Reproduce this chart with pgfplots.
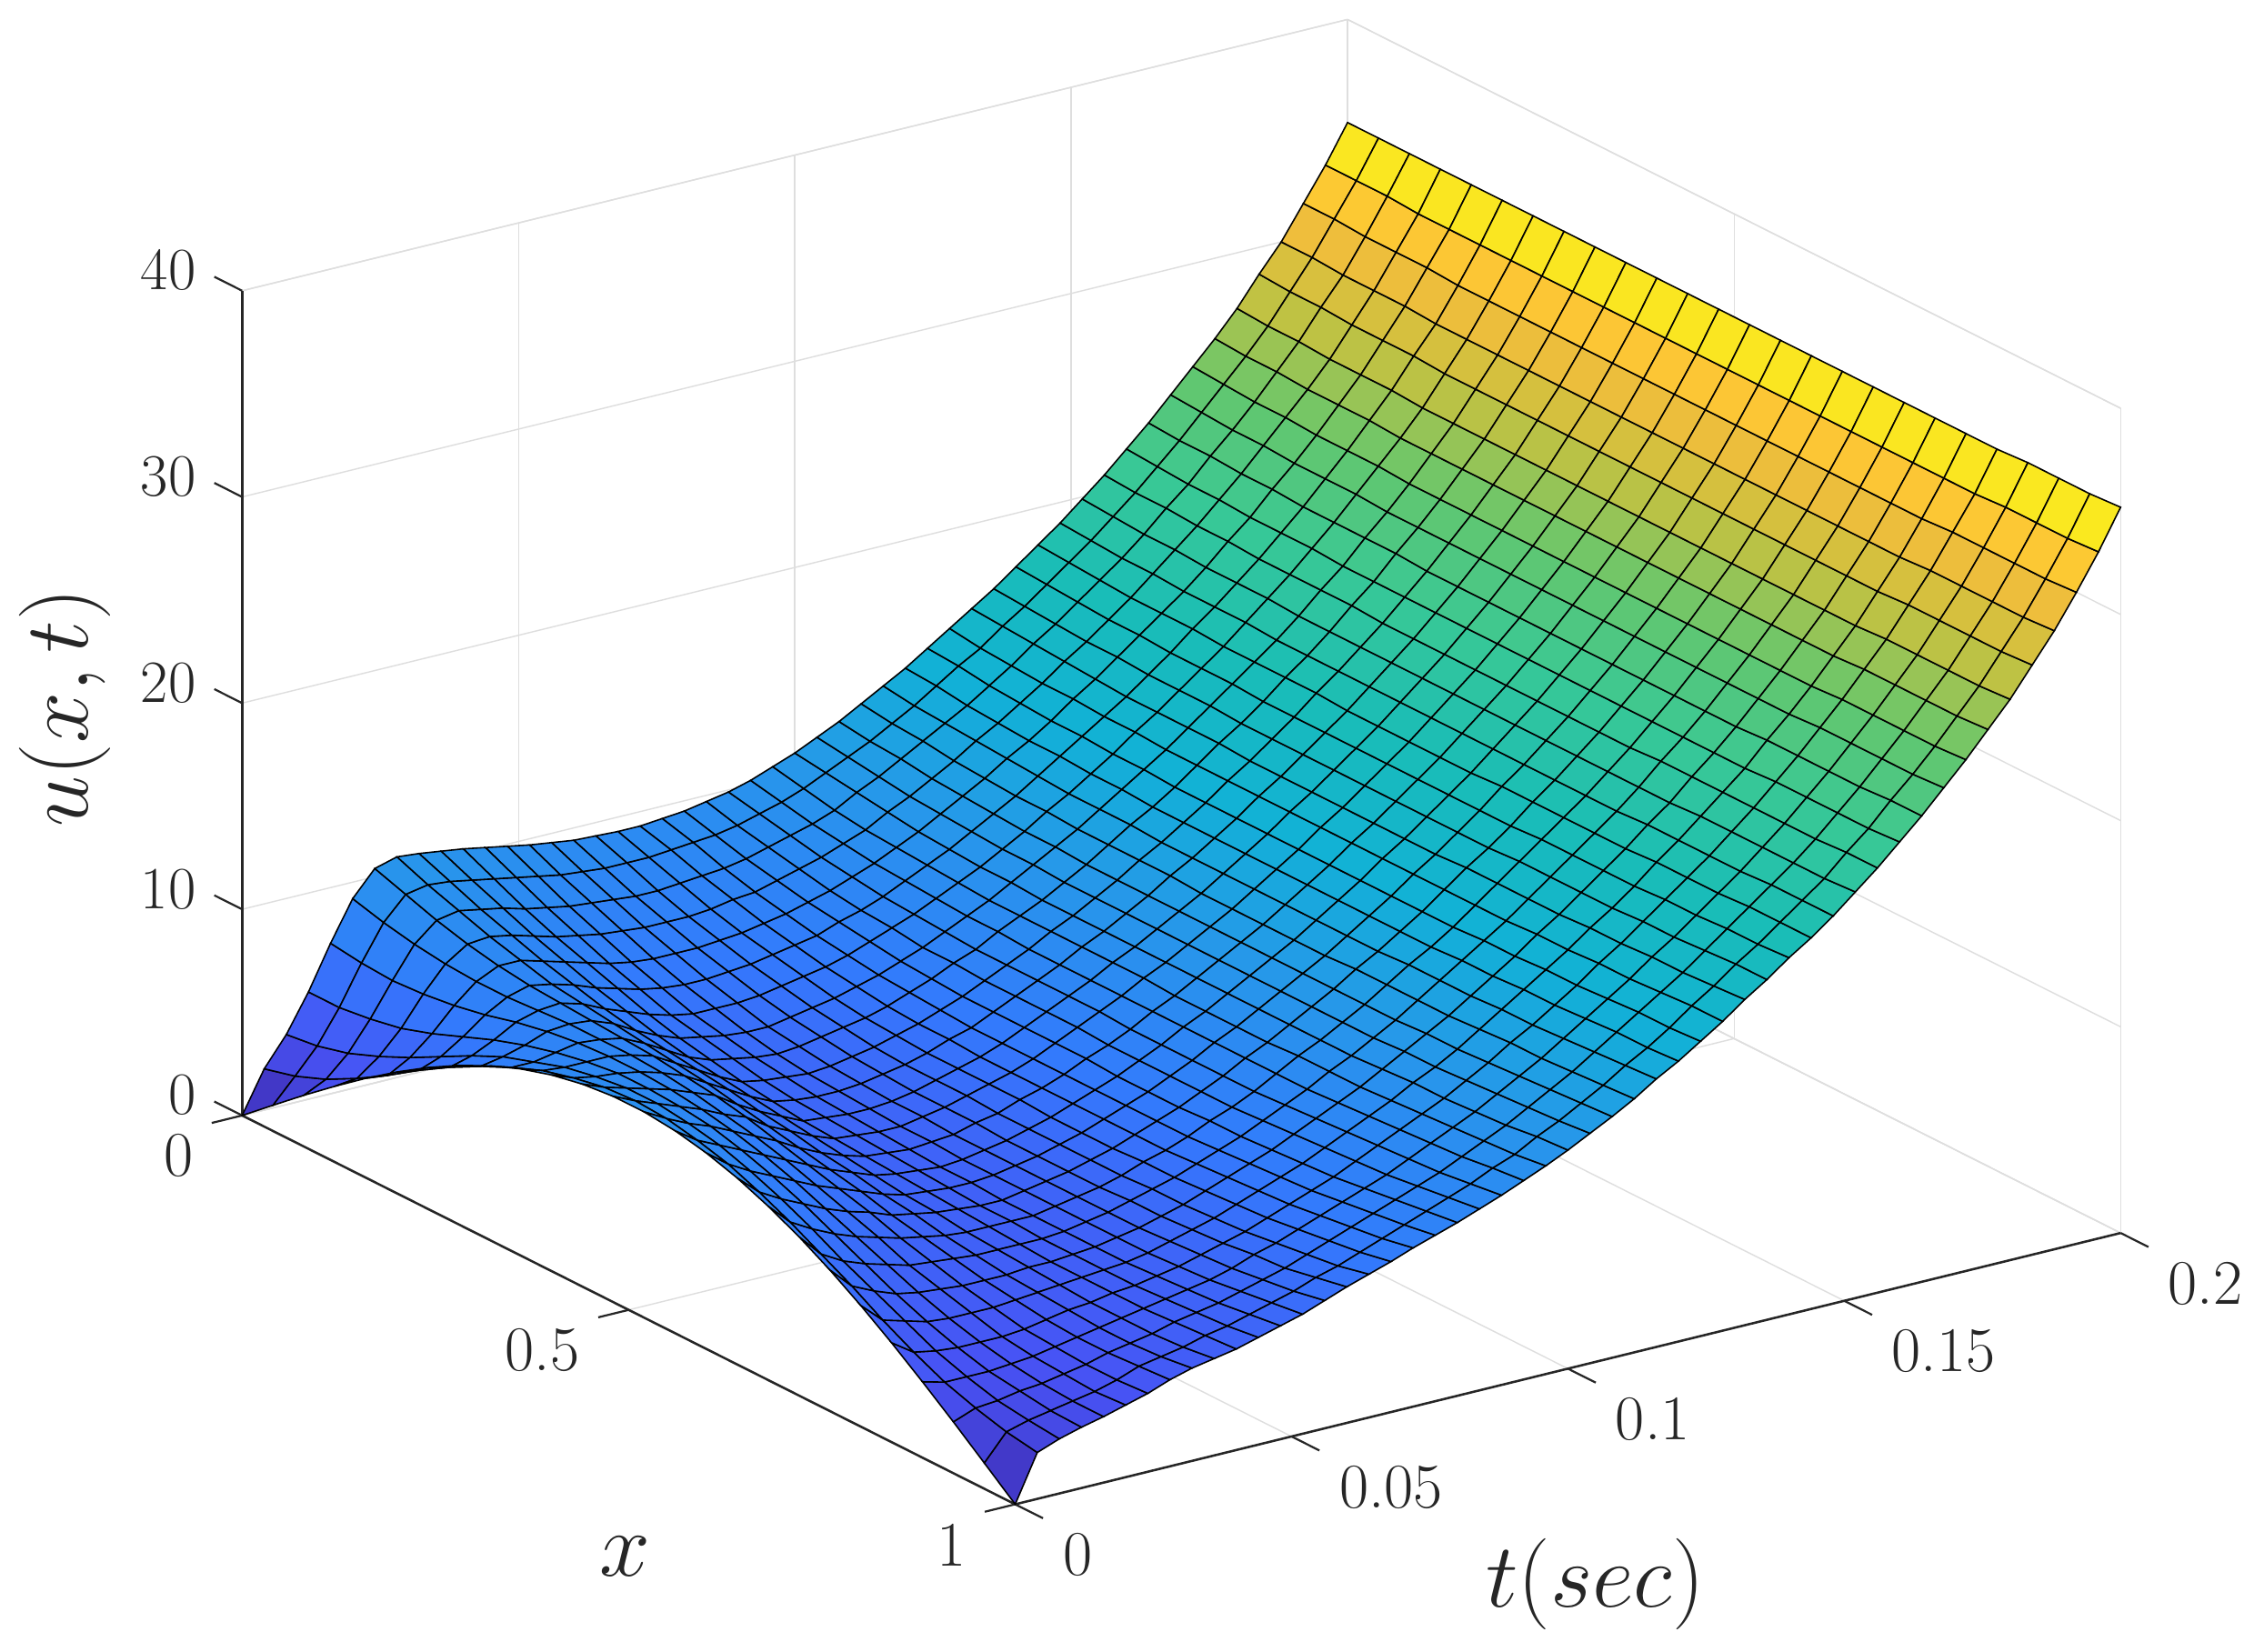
\documentclass[border=0pt]{standalone}
\usepackage{pgfplots}
\pgfplotsset{compat=1.18}
\definecolor{gridc}{gray}{0.87}
\definecolor{axc}{gray}{0.15}
\begin{document}
\begin{tikzpicture}
\path[use as bounding box] (0,0) rectangle (784pt,572.1pt);
\begin{axis}[
 at={(83.85pt,185.8pt)}, anchor=origin,
 x={(267.7pt,-134.65pt)}, y={(1914pt,469.75pt)}, z={(0pt,7.14pt)},
 xmin=0,xmax=1,ymin=0,ymax=0.2,zmin=0,zmax=40,
 clip=false,
 xtick={0,0.5,1}, xticklabels={0,0.5,1},
 ytick={0,0.05,0.1,0.15,0.2}, yticklabels={0,0.05,0.1,0.15,0.2},
 ztick={0,10,20,30,40},
 grid=major, major grid style={gridc,line width=0.45pt},
 axis line style={gridc,line width=0.45pt},
 major tick length=0pt,
 tick label style={font=\fontsize{22}{24}\selectfont,text=axc},
 xticklabel style={anchor=east,xshift=-13.5pt,yshift=-14pt},
 yticklabel style={anchor=west,xshift=13pt,yshift=-17.5pt},
 zticklabel style={anchor=east,xshift=-12.5pt,yshift=7pt},
 xlabel={$x$}, ylabel={$t(sec)$}, zlabel={$u(x,t)$},
 label style={font=\fontsize{24.88}{26}\selectfont,text=axc,scale=1.27},
 xlabel style={at={(axis cs:0.9247,-0.06,0)},anchor=center},
 ylabel style={at={(axis cs:1.3836,0.0513,0)},anchor=center},
 zlabel style={at={(axis cs:-0.7805,0.0771,0)},anchor=center,rotate=0},
 colormap={parula}{rgb=(.2422,.1504,.6603) rgb=(.2810,.3228,.9579) rgb=(.2,.48,.99) rgb=(.154,.59,.92) rgb=(.069,.695,.84) rgb=(.1,.74,.72) rgb=(.216,.784,.592) rgb=(.39,.78,.43) rgb=(.78,.76,.25) rgb=(.99,.74,.23) rgb=(.977,.984,.08)},
 point meta min=0, point meta max=35.2,
]
\draw[axc,line width=0.8pt] (axis cs:0,0,0)--(axis cs:0,0,40);
\draw[axc,line width=0.8pt] (axis cs:0,0,0)--(axis cs:1,0,0)--(axis cs:1,0.2,0);
\draw[axc,line width=0.7pt] (axis cs:0,0,0)--(axis cs:0,-0.0055,0);
\draw[axc,line width=0.7pt] (axis cs:0.5,0,0)--(axis cs:0.5,-0.0055,0);
\draw[axc,line width=0.7pt] (axis cs:1,0,0)--(axis cs:1,-0.0055,0);
\draw[axc,line width=0.7pt] (axis cs:1,0,0)--(axis cs:1.036,0,0);
\draw[axc,line width=0.7pt] (axis cs:1,0.05,0)--(axis cs:1.036,0.05,0);
\draw[axc,line width=0.7pt] (axis cs:1,0.1,0)--(axis cs:1.036,0.1,0);
\draw[axc,line width=0.7pt] (axis cs:1,0.15,0)--(axis cs:1.036,0.15,0);
\draw[axc,line width=0.7pt] (axis cs:1,0.2,0)--(axis cs:1.036,0.2,0);
\draw[axc,line width=0.7pt] (axis cs:0,0,0)--(axis cs:-0.036,0,0);
\draw[axc,line width=0.7pt] (axis cs:0,0,10)--(axis cs:-0.036,0,10);
\draw[axc,line width=0.7pt] (axis cs:0,0,20)--(axis cs:-0.036,0,20);
\draw[axc,line width=0.7pt] (axis cs:0,0,30)--(axis cs:-0.036,0,30);
\draw[axc,line width=0.7pt] (axis cs:0,0,40)--(axis cs:-0.036,0,40);
\addplot3[surf,shader=faceted,faceted color=black,line width=0.5pt,z buffer=sort,mesh/cols=26]
 table[header=false,x expr={mod(\coordindex,26)*0.04},y expr={floor((\coordindex+0.5)/26)*0.004},z index=0]{
0
1.25
2.49
3.68
4.82
5.88
6.85
7.71
8.44
9.05
9.51
9.82
9.98
9.98
9.82
9.51
9.05
8.44
7.71
6.85
5.88
4.82
3.68
2.49
1.25
0
2.0
2.4
3.0
3.8
4.7
5.7
6.6
7.4
8.1
8.7
9.1
9.4
9.5
9.4
9.1
8.7
8.1
7.4
6.6
5.8
4.9
4.1
3.4
2.9
2.5
2.25
3.4
3.6
4.0
4.6
5.3
6.1
6.9
7.6
8.1
8.6
8.9
9.1
9.1
8.9
8.6
8.1
7.5
6.8
6.0
5.3
4.6
3.9
3.4
3.0
2.8
2.65
5.2
5.2
5.4
5.7
6.2
6.8
7.4
7.9
8.3
8.6
8.8
8.8
8.7
8.5
8.1
7.6
7.0
6.3
5.6
4.9
4.3
3.8
3.4
3.2
3.0
2.95
7.3
7.1
7.0
7.1
7.3
7.6
8.0
8.3
8.5
8.6
8.6
8.5
8.3
8.0
7.6
7.1
6.5
5.9
5.3
4.7
4.2
3.8
3.5
3.3
3.2
3.2
9.2
8.8
8.5
8.3
8.2
8.2
8.3
8.4
8.4
8.4
8.3
8.1
7.8
7.5
7.1
6.6
6.1
5.6
5.0
4.6
4.2
3.8
3.6
3.5
3.4
3.5
10.4
9.9
9.4
9.0
8.7
8.5
8.4
8.3
8.2
8.1
7.9
7.7
7.4
7.0
6.6
6.2
5.8
5.3
4.9
4.5
4.2
3.9
3.8
3.7
3.7
3.8
10.7
10.1
9.6
9.1
8.7
8.3
8.1
7.9
7.7
7.5
7.3
7.0
6.7
6.4
6.1
5.8
5.4
5.1
4.8
4.5
4.3
4.1
4.0
4.0
4.1
4.2
10.6
10.0
9.4
8.9
8.4
8.0
7.6
7.3
7.1
6.9
6.7
6.4
6.2
5.9
5.7
5.4
5.2
4.9
4.7
4.5
4.4
4.3
4.2
4.2
4.3
4.5
10.45
9.8
9.2
8.6
8.1
7.6
7.2
6.8
6.5
6.3
6.1
5.9
5.7
5.5
5.3
5.1
5.0
4.8
4.7
4.6
4.5
4.4
4.4
4.4
4.5
4.7
10.3
9.6
8.9
8.3
7.8
7.3
6.8
6.4
6.1
5.8
5.6
5.4
5.3
5.2
5.1
5.0
4.9
4.8
4.7
4.6
4.6
4.6
4.6
4.7
4.8
4.9
10.1
9.4
8.7
8.1
7.5
7.0
6.5
6.2
5.9
5.6
5.4
5.3
5.2
5.1
5.0
4.9
4.8
4.8
4.7
4.7
4.7
4.7
4.8
4.9
5.0
5.2
9.9
9.2
8.5
7.9
7.3
6.8
6.3
6.0
5.7
5.5
5.3
5.2
5.1
5.0
4.9
4.9
4.8
4.8
4.8
4.8
4.8
4.9
5.0
5.1
5.3
5.5
9.7
9.0
8.4
7.8
7.2
6.7
6.3
5.9
5.6
5.4
5.3
5.2
5.1
5.1
5.0
5.0
5.0
5.0
5.0
5.0
5.0
5.1
5.2
5.4
5.6
5.8
9.55
8.9
8.3
7.7
7.2
6.7
6.3
5.9
5.7
5.5
5.4
5.3
5.3
5.2
5.2
5.2
5.2
5.2
5.2
5.2
5.3
5.4
5.5
5.7
5.9
6.2
9.4
8.8
8.2
7.7
7.2
6.8
6.4
6.1
5.9
5.7
5.6
5.5
5.5
5.5
5.4
5.4
5.4
5.4
5.5
5.5
5.6
5.7
5.9
6.0
6.3
6.6
9.35
8.8
8.2
7.7
7.3
6.9
6.6
6.3
6.1
5.9
5.8
5.8
5.8
5.7
5.7
5.7
5.7
5.7
5.8
5.8
5.9
6.0
6.2
6.4
6.6
6.95
9.3
8.8
8.3
7.8
7.4
7.1
6.8
6.5
6.3
6.2
6.1
6.1
6.1
6.1
6.0
6.0
6.0
6.1
6.1
6.2
6.3
6.4
6.6
6.8
7.0
7.3
9.3
8.9
8.4
8.0
7.6
7.3
7.0
6.8
6.6
6.5
6.5
6.4
6.4
6.4
6.4
6.4
6.4
6.4
6.5
6.6
6.7
6.8
7.0
7.2
7.4
7.7
9.4
9.0
8.5
8.1
7.8
7.5
7.3
7.1
7.0
6.9
6.8
6.8
6.8
6.8
6.8
6.8
6.8
6.8
6.9
7.0
7.1
7.2
7.4
7.6
7.8
8.05
9.5
9.1
8.7
8.4
8.1
7.9
7.7
7.5
7.4
7.3
7.3
7.3
7.3
7.3
7.2
7.2
7.2
7.3
7.3
7.4
7.5
7.6
7.8
8.0
8.2
8.4
9.7
9.3
9.0
8.7
8.4
8.2
8.1
7.9
7.9
7.8
7.8
7.8
7.8
7.7
7.7
7.7
7.7
7.7
7.8
7.9
8.0
8.1
8.2
8.4
8.6
8.8
9.9
9.6
9.3
9.0
8.8
8.6
8.5
8.4
8.3
8.3
8.3
8.3
8.3
8.2
8.2
8.2
8.2
8.2
8.3
8.4
8.5
8.6
8.7
8.8
9.0
9.2
10.2
9.9
9.6
9.4
9.2
9.1
9.0
8.9
8.9
8.8
8.8
8.8
8.8
8.8
8.8
8.8
8.8
8.8
8.8
8.9
9.0
9.1
9.2
9.3
9.5
9.65
10.6
10.3
10.0
9.8
9.7
9.6
9.5
9.4
9.4
9.4
9.4
9.4
9.4
9.3
9.3
9.3
9.3
9.4
9.4
9.4
9.5
9.6
9.7
9.8
9.9
10.1
11.0
10.8
10.6
10.4
10.2
10.1
10.0
10.0
9.9
9.9
9.9
9.9
9.9
9.9
9.9
9.9
9.9
9.9
9.9
10.0
10.1
10.1
10.2
10.3
10.5
10.6
11.5
11.3
11.1
10.9
10.8
10.7
10.6
10.6
10.5
10.5
10.5
10.5
10.5
10.5
10.5
10.5
10.5
10.5
10.5
10.6
10.6
10.7
10.8
10.9
11.0
11.15
12.0
11.8
11.7
11.5
11.4
11.3
11.2
11.2
11.1
11.1
11.1
11.1
11.1
11.1
11.1
11.1
11.1
11.1
11.1
11.2
11.2
11.3
11.4
11.5
11.6
11.7
12.6
12.4
12.3
12.1
12.0
11.9
11.9
11.8
11.8
11.8
11.8
11.7
11.7
11.7
11.7
11.7
11.8
11.8
11.8
11.8
11.9
12.0
12.0
12.1
12.2
12.3
13.2
13.0
12.9
12.8
12.7
12.6
12.5
12.5
12.5
12.4
12.4
12.4
12.4
12.4
12.4
12.4
12.4
12.5
12.5
12.5
12.6
12.6
12.7
12.8
12.9
13.0
13.8
13.7
13.5
13.4
13.3
13.3
13.2
13.2
13.1
13.1
13.1
13.1
13.1
13.1
13.1
13.1
13.1
13.1
13.2
13.2
13.3
13.3
13.4
13.5
13.5
13.6
14.5
14.4
14.2
14.1
14.0
14.0
13.9
13.9
13.8
13.8
13.8
13.8
13.8
13.8
13.8
13.8
13.8
13.8
13.9
13.9
14.0
14.0
14.1
14.2
14.2
14.3
15.2
15.0
14.9
14.8
14.8
14.7
14.7
14.6
14.6
14.6
14.6
14.6
14.6
14.6
14.6
14.6
14.6
14.6
14.6
14.7
14.7
14.8
14.8
14.9
15.0
15.0
15.9
15.8
15.7
15.6
15.5
15.4
15.4
15.4
15.4
15.3
15.3
15.3
15.3
15.3
15.3
15.3
15.4
15.4
15.4
15.4
15.5
15.5
15.6
15.6
15.7
15.8
16.6
16.5
16.4
16.3
16.3
16.2
16.2
16.2
16.1
16.1
16.1
16.1
16.1
16.1
16.1
16.1
16.1
16.2
16.2
16.2
16.2
16.3
16.3
16.4
16.5
16.5
17.4
17.3
17.2
17.1
17.1
17.0
17.0
17.0
16.9
16.9
16.9
16.9
16.9
16.9
16.9
16.9
16.9
17.0
17.0
17.0
17.0
17.1
17.1
17.2
17.2
17.3
18.2
18.1
18.0
17.9
17.9
17.9
17.8
17.8
17.8
17.8
17.7
17.7
17.7
17.7
17.7
17.8
17.8
17.8
17.8
17.8
17.9
17.9
17.9
18.0
18.0
18.0
19.0
18.9
18.8
18.8
18.7
18.7
18.7
18.6
18.6
18.6
18.6
18.6
18.6
18.6
18.6
18.6
18.6
18.6
18.6
18.7
18.7
18.7
18.7
18.8
18.8
18.8
19.9
19.8
19.7
19.7
19.6
19.6
19.6
19.5
19.5
19.5
19.5
19.5
19.5
19.5
19.5
19.5
19.5
19.5
19.5
19.5
19.6
19.6
19.6
19.6
19.6
19.7
20.8
20.7
20.7
20.6
20.6
20.5
20.5
20.5
20.5
20.4
20.4
20.4
20.4
20.4
20.4
20.4
20.4
20.4
20.5
20.5
20.5
20.5
20.5
20.5
20.6
20.6
21.8
21.7
21.6
21.6
21.5
21.5
21.5
21.4
21.4
21.4
21.4
21.4
21.4
21.4
21.4
21.4
21.4
21.4
21.4
21.4
21.4
21.5
21.5
21.5
21.5
21.6
22.8
22.7
22.7
22.6
22.6
22.5
22.5
22.5
22.5
22.4
22.4
22.4
22.4
22.4
22.4
22.4
22.4
22.4
22.4
22.4
22.5
22.5
22.5
22.5
22.6
22.6
23.9
23.8
23.7
23.7
23.6
23.6
23.6
23.5
23.5
23.5
23.5
23.5
23.5
23.5
23.5
23.5
23.5
23.5
23.5
23.5
23.5
23.6
23.6
23.6
23.6
23.7
25.0
24.9
24.8
24.8
24.7
24.7
24.7
24.6
24.6
24.6
24.6
24.6
24.6
24.6
24.6
24.6
24.6
24.6
24.6
24.6
24.6
24.7
24.7
24.7
24.7
24.8
26.1
26.0
26.0
25.9
25.9
25.9
25.8
25.8
25.8
25.8
25.8
25.8
25.8
25.8
25.8
25.8
25.8
25.8
25.8
25.8
25.8
25.9
25.9
25.9
25.9
26.0
27.3
27.2
27.2
27.1
27.1
27.1
27.0
27.0
27.0
27.0
27.0
27.0
27.0
27.0
27.0
27.0
27.0
27.0
27.0
27.0
27.0
27.1
27.1
27.1
27.1
27.2
28.7
28.6
28.6
28.5
28.5
28.5
28.4
28.4
28.4
28.4
28.4
28.4
28.4
28.4
28.4
28.4
28.4
28.4
28.4
28.4
28.4
28.5
28.5
28.5
28.5
28.6
30.0
30.0
29.9
29.9
29.9
29.8
29.8
29.8
29.8
29.8
29.8
29.8
29.8
29.8
29.8
29.8
29.8
29.8
29.8
29.8
29.8
29.9
29.9
29.9
29.9
30.0
31.6
31.6
31.5
31.5
31.5
31.4
31.4
31.4
31.4
31.4
31.4
31.4
31.4
31.4
31.4
31.4
31.4
31.4
31.4
31.4
31.4
31.5
31.5
31.5
31.5
31.6
33.2
33.2
33.2
33.1
33.1
33.1
33.1
33.1
33.1
33.1
33.1
33.1
33.1
33.1
33.1
33.1
33.1
33.1
33.1
33.1
33.1
33.1
33.2
33.2
33.2
33.3
35.0
35.0
35.0
35.0
35.0
35.0
35.0
35.0
35.0
35.0
35.0
35.0
35.0
35.0
35.0
35.0
35.0
35.0
35.0
35.0
35.0
35.0
35.1
35.1
35.1
35.2
};
\end{axis}
\end{tikzpicture}
\end{document}
